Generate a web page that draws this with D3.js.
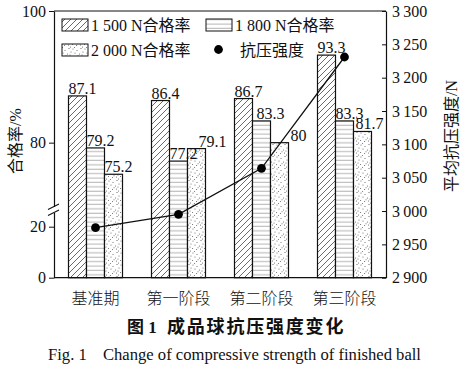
<!DOCTYPE html>
<html><head><meta charset="utf-8">
<script src="https://cdn.jsdelivr.net/npm/d3@7"></script>
<style>
body{margin:0;background:#fff;}
text{font-family:"Liberation Serif","Noto Sans CJK SC",serif;fill:#111;}
</style></head>
<body>
<svg id="chart" width="465" height="368"></svg>
<script>
// ---- data ----
const categories = ["基准期","第一阶段","第二阶段","第三阶段"];
const seriesNames = ["1 500 N合格率","1 800 N合格率","2 000 N合格率"];
const rate1500 = [87.1, 86.4, 86.7, 93.3];
const rate1800 = [79.2, 77.2, 83.3, 83.3];
const rate2000 = [75.2, 79.1, 80, 81.7];
const strength = [2975, 2995, 3064, 3231];
const strengthName = "抗压强度";
const leftTicks = [0, 20, 80, 100];
const rightTicks = [2900, 2950, 3000, 3050, 3100, 3150, 3200, 3250, 3300];
const labelText = ["87.1","79.2","75.2","86.4","77.2","79.1","86.7","83.3","80","93.3","83.3","81.7"];

const seriesVals = [rate1500, rate1800, rate2000];

// ---- layout ----
const svg = d3.select("#chart");
const L = 54, R = 386, T = 11, B = 277.7;

const x0 = d3.scaleBand().domain(categories).range([L, R]).padding(0);
const barW = 18;
const x1 = d3.scaleBand().domain(seriesNames)
  .range([x0.bandwidth()/2 - 1.5*barW, x0.bandwidth()/2 + 1.5*barW]).padding(0);
const yL = d3.scaleLinear().domain([0, 20, 70, 100]).range([B, 226.7, 208.5, T]);
const yR = d3.scaleLinear().domain([2900, 3300]).range([B, T]);

// ---- patterns ----
const defs = svg.append("defs");
const ph = defs.append("pattern").attr("id","hatch").attr("patternUnits","userSpaceOnUse")
  .attr("width",6).attr("height",6);
ph.append("rect").attr("width",6).attr("height",6).attr("fill","#fff");
ph.append("path").attr("d","M0,6 L6,0 M-1.5,1.5 L1.5,-1.5 M4.5,7.5 L7.5,4.5")
  .attr("stroke","#444").attr("stroke-width",0.8);
const pz = defs.append("pattern").attr("id","horiz").attr("patternUnits","userSpaceOnUse")
  .attr("width",6).attr("height",4.4);
pz.append("rect").attr("width",6).attr("height",4.4).attr("fill","#fff");
pz.append("line").attr("x1",0).attr("x2",6).attr("y1",2).attr("y2",2)
  .attr("stroke","#9a9a9a").attr("stroke-width",0.8);
const pd = defs.append("pattern").attr("id","dots").attr("patternUnits","userSpaceOnUse")
  .attr("width",12).attr("height",12);
pd.append("rect").attr("width",12).attr("height",12).attr("fill","#fff");
const dotPts = [[1,1],[5,2.5],[9,0.5],[3,5],[7.5,6],[11,4],[0.5,8.5],[4.5,9.5],[8.5,9],[10.5,11],[2.5,11.5],[6,7.8],[10,7]];
pd.selectAll("circle").data(dotPts).enter().append("circle")
  .attr("cx",d=>d[0]).attr("cy",d=>d[1]).attr("r",0.55).attr("fill","#666");
const fills = ["url(#hatch)","url(#horiz)","url(#dots)"];

// ---- bars ----
const barData = [];
categories.forEach((c,i)=>{
  seriesNames.forEach((s,j)=>{
    barData.push({c, s, j, v: seriesVals[j][i], label: labelText[i*3+j]});
  });
});
svg.append("g").selectAll("rect").data(barData).enter().append("rect")
  .attr("x", d=>x0(d.c)+x1(d.s))
  .attr("y", d=>yL(d.v))
  .attr("width", x1.bandwidth())
  .attr("height", d=>yL(0)-yL(d.v))
  .attr("fill", d=>fills[d.j])
  .attr("stroke","#111").attr("stroke-width",1.2);

// value labels (manual nudges like the original)
const nudge = {"第一阶段|2":11, "第二阶段|1":4, "第二阶段|2":20, "第三阶段|2":2};
svg.append("g").selectAll("text").data(barData).enter().append("text")
  .attr("x", d=>x0(d.c)+x1(d.s) + (nudge[d.c+"|"+d.j]||0))
  .attr("y", d=>yL(d.v)-2)
  .attr("font-size",16)
  .text(d=>d.label);

// ---- frame & axes ----
svg.append("line").attr("x1",L).attr("x2",R).attr("y1",T).attr("y2",T).attr("stroke","#111").attr("stroke-width",1.2);
svg.append("line").attr("x1",L).attr("x2",R).attr("y1",B).attr("y2",B).attr("stroke","#111").attr("stroke-width",1.2);

const axL = svg.append("g").attr("transform",`translate(${L},0)`)
  .call(d3.axisLeft(yL).tickValues(leftTicks).tickSize(5).tickSizeOuter(0).tickPadding(3));
const axR = svg.append("g").attr("transform",`translate(${R},0)`)
  .call(d3.axisRight(yR).tickValues(rightTicks).tickSize(-4).tickSizeOuter(0).tickPadding(6)
    .tickFormat(d=>d3.format(",")(d).replace(",", "\u2009")));
[axL, axR].forEach(a=>{
  a.select(".domain").attr("stroke","#111").attr("stroke-width",1.2);
  a.selectAll(".tick line").attr("stroke","#111").attr("stroke-width",1);
  a.selectAll(".tick text").attr("font-size",16).attr("font-family","Liberation Serif").attr("fill","#111");
});
axR.selectAll(".tick text").attr("x",6);

// axis break on the left axis
const yb = 210;
svg.append("rect").attr("x",L-2).attr("y",yb-3).attr("width",4).attr("height",6).attr("fill","#fff");
svg.append("path").attr("d",`M${L-6},${yb-0.5} L${L+5},${yb-6} M${L-6},${yb+5.5} L${L+5},${yb}`)
  .attr("stroke","#111").attr("stroke-width",1.1).attr("fill","none");

// category labels
svg.append("g").selectAll("text").data(categories).enter().append("text")
  .attr("x", d=>x0(d)+x0.bandwidth()/2).attr("y",304)
  .attr("text-anchor","middle").attr("font-size",16)
  .attr("font-family","Noto Sans CJK SC").attr("font-weight",300)
  .text(d=>d);

// ---- strength line ----
const pts = categories.map((c,i)=>({x:x0(c)+x0.bandwidth()/2, y:yR(strength[i])}));
svg.append("path").datum(pts)
  .attr("d", d3.line().x(d=>d.x).y(d=>d.y))
  .attr("fill","none").attr("stroke","#111").attr("stroke-width",1.3);
svg.append("g").selectAll("circle").data(pts).enter().append("circle")
  .attr("cx",d=>d.x).attr("cy",d=>d.y).attr("r",4.4).attr("fill","#000");

// ---- axis titles ----
svg.append("text").attr("transform","translate(21,141) rotate(-90)")
  .attr("text-anchor","middle").attr("font-size",16).text("合格率/%");
svg.append("text").attr("transform","translate(457,136) rotate(-90)")
  .attr("text-anchor","middle").attr("font-size",16).text("平均抗压强度/N");

// ---- legend ----
const leg = svg.append("g");
const legItems = [
  {type:"box", fill:fills[0], x:62, y:19, name:seriesNames[0]},
  {type:"box", fill:fills[1], x:206, y:19, name:seriesNames[1]},
  {type:"box", fill:fills[2], x:62, y:44, name:seriesNames[2]},
  {type:"dot", x:206, y:44, name:strengthName}
];
legItems.forEach(it=>{
  if(it.type==="box"){
    leg.append("rect").attr("x",it.x).attr("y",it.y).attr("width",26).attr("height",12)
      .attr("fill",it.fill).attr("stroke","#111").attr("stroke-width",1);
  } else {
    leg.append("circle").attr("cx",it.x+12.5).attr("cy",it.y+5.5).attr("r",4.4).attr("fill","#000");
  }
  leg.append("text").attr("x",it.x + (it.type==="box"?29:34)).attr("y",it.y+12)
    .attr("font-size",16).text(it.name);
});

// ---- captions ----
svg.append("text").attr("x",127).attr("y",333).attr("font-size",17)
  .attr("font-family","Noto Sans CJK SC").attr("font-weight",700).text("图 1");
svg.append("text").attr("x",167).attr("y",333).attr("font-size",18)
  .attr("font-family","Noto Sans CJK SC").attr("font-weight",700)
  .attr("letter-spacing",1.8).text("成品球抗压强度变化");
svg.append("text").attr("x",48).attr("y",360).attr("font-size",16.6).text("Fig. 1");
svg.append("text").attr("x",103).attr("y",360).attr("font-size",16.6)
  .text("Change of compressive strength of finished ball");
</script>
</body></html>
